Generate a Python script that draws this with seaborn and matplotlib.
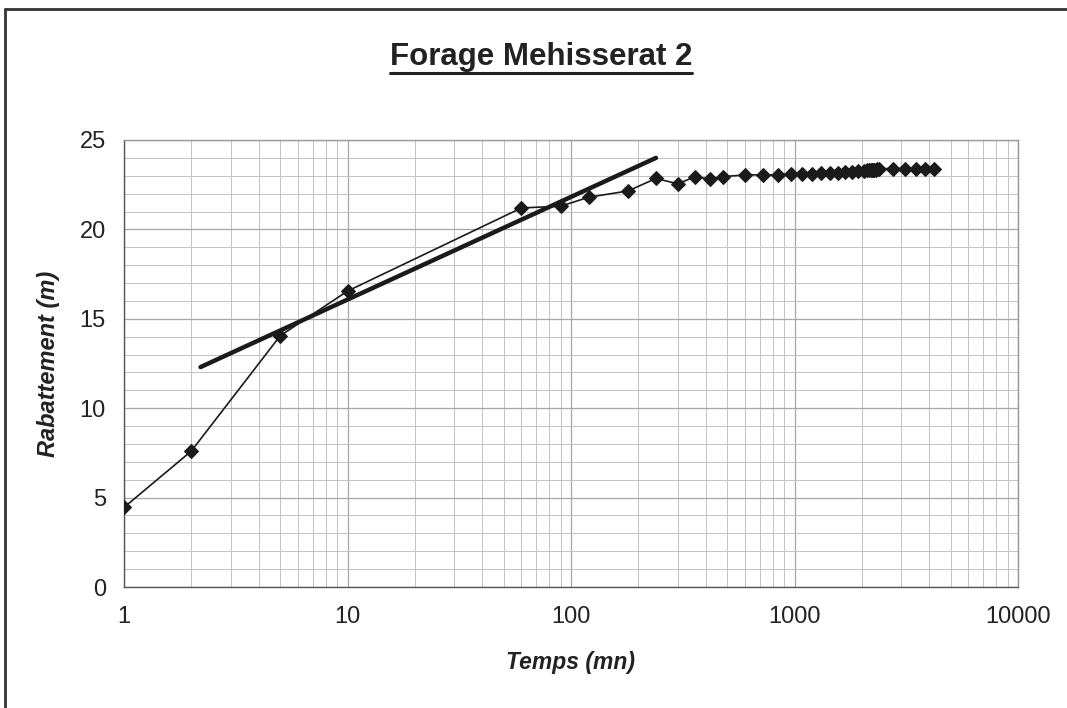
import numpy as np
import pandas as pd
import matplotlib
matplotlib.use("Agg")
import matplotlib.pyplot as plt
from matplotlib.ticker import FixedLocator, FixedFormatter, LogLocator, NullFormatter
import seaborn as sns

# essai de pompage - Forage Mehisserat 2
temps = [1, 2, 5, 10, 60, 90, 120, 180, 240, 300, 360, 420, 480, 600, 720, 840,
         960, 1080, 1200, 1320, 1440, 1560, 1680, 1800, 1920, 2040, 2100, 2160,
         2190, 2220, 2250, 2280, 2310, 2340, 2400, 2760, 3120, 3480, 3840, 4200]
rabattement = [4.45, 7.6, 14.05, 16.55, 21.2, 21.3, 21.8, 22.15, 22.85, 22.55,
               22.95, 22.8, 22.95, 23.05, 23.05, 23.05, 23.1, 23.1, 23.1, 23.15,
               23.15, 23.15, 23.2, 23.2, 23.25, 23.25, 23.3, 23.3, 23.3, 23.35,
               23.35, 23.35, 23.35, 23.4, 23.4, 23.4, 23.4, 23.4, 23.4, 23.4]

# droite d'ajustement (Jacob)
temps_droite = [2.2, 240]
rab_droite = [12.3, 24.0]

xticks = [1, 10, 100, 1000, 10000]
xtick_labels = ["1", "10", "100", "1000", "10000"]
yticks = [0, 5, 10, 15, 20, 25]

df = pd.DataFrame({"t": temps, "s": rabattement})
df_fit = pd.DataFrame({"t": temps_droite, "s": rab_droite})

sns.set_style("white")
plt.rcParams['font.family'] = ['Liberation Sans', 'DejaVu Sans']

fig = plt.figure(figsize=(10.67, 7.08), dpi=100)
ax = fig.add_axes([124/1067, 1-587/708, (1018-124)/1067, (587-140)/708])

sns.lineplot(data=df_fit, x="t", y="s", ax=ax, color="#1a1a1a", linewidth=3.2, zorder=3)
sns.lineplot(data=df, x="t", y="s", ax=ax, color="#1a1a1a", linewidth=1.2,
             marker="D", markersize=7.2, markeredgecolor="#1a1a1a", zorder=4)

ax.set_xscale("log")
ax.set_xlim(1, 10000)
ax.set_ylim(0, 25)
ax.xaxis.set_major_locator(FixedLocator(xticks))
ax.xaxis.set_major_formatter(FixedFormatter(xtick_labels))
ax.xaxis.set_minor_locator(LogLocator(base=10, subs=np.arange(2, 10)))
ax.xaxis.set_minor_formatter(NullFormatter())
ax.set_yticks(yticks)
ax.set_yticks(np.arange(0, 26, 1), minor=True)

ax.grid(True, which="major", color="#a6a6a6", linewidth=0.9)
ax.grid(True, which="minor", color="#c2c2c2", linewidth=0.7)
ax.set_axisbelow(True)

for s in ax.spines.values():
    s.set_color("#999999")
    s.set_linewidth(1.0)
ax.spines["left"].set_color("#555555")
ax.spines["bottom"].set_color("#555555")

ax.tick_params(axis="both", which="major", labelsize=17, colors="#222222",
               length=5, width=0.9, direction="out", pad=8)
ax.tick_params(axis="both", which="minor", length=0)
ax.tick_params(axis="x", pad=9)

ax.set_xlabel("Temps (mn)", fontsize=16.5, fontweight="bold", fontstyle="italic",
              color="#222222", labelpad=16)
ax.set_ylabel("Rabattement (m)", fontsize=17, fontweight="bold", fontstyle="italic",
              color="#222222", labelpad=14)

# titre souligne
title = fig.text(541/1067, 1-57/708, "Forage Mehisserat 2", ha="center", va="center",
                 fontsize=22.5, fontweight="bold", color="#222222")
fig.canvas.draw()
bb = title.get_window_extent().transformed(fig.transFigure.inverted())
fig.add_artist(plt.Line2D([bb.x0, bb.x1], [bb.y0 - 0.002, bb.y0 - 0.002],
                          transform=fig.transFigure, color="#222222", linewidth=2.2))

# cadre du graphique
fig.add_artist(plt.Line2D([5/1067, 1], [1-9/708, 1-9/708], transform=fig.transFigure,
                          color="#333333", linewidth=2))
fig.add_artist(plt.Line2D([5/1067, 5/1067], [0, 1-9/708], transform=fig.transFigure,
                          color="#333333", linewidth=2))

fig.savefig("out.png", dpi=100)
